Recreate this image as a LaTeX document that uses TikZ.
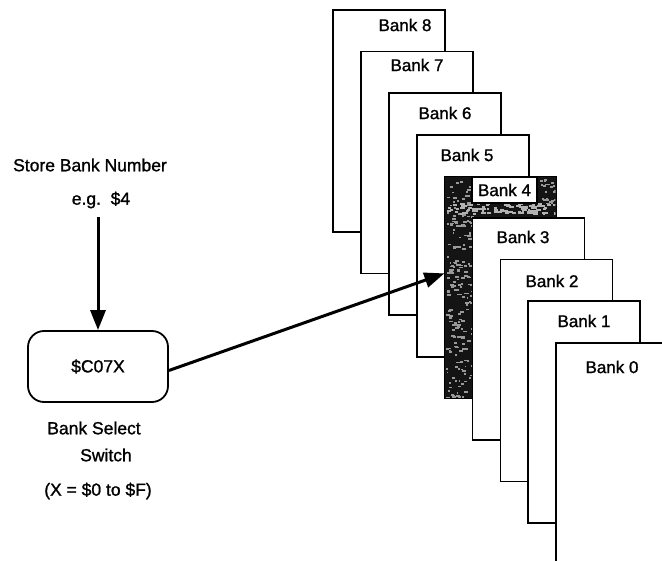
\documentclass[tikz,border=0pt]{standalone}
\usepackage{fontspec}
\setmainfont{Liberation Sans}
\newfontfamily\genevafont[FakeBold=1.2]{Liberation Sans}
\usetikzlibrary{arrows.meta,calc}
\begin{document}
\begin{tikzpicture}[x=1pt,y=-1pt,
  bank/.style={draw=black, line width=1.7pt, fill=white, minimum width=112pt,
    minimum height=222pt, anchor=north west, inner sep=0pt, outer sep=0pt},
  lbl/.style={font=\genevafont\fontsize{17}{20}\selectfont, inner sep=1pt},
  txt/.style={font=\genevafont\fontsize{17.5}{21}\selectfont, inner sep=1pt},
  swbox/.style={draw=black, line width=1.8pt, rounded corners=16pt,
    minimum width=140pt, minimum height=71pt, inner sep=0pt},
  arr/.style={line width=3pt, -{Triangle[length=20pt,width=15pt]}},
  speck/.style={fill=black!40}]
\useasboundingbox (0,0) rectangle (662,561);
\clip (0,0) rectangle (662,561);
\fill[white] (0,0) rectangle (662,561);

% back banks 8..5
\foreach \i/\lx/\ly in {8/405/25, 7/417/65, 6/445/113, 5/467/155}{
  \pgfmathsetmacro\L{333+27.9*(8-\i)}
  \pgfmathsetmacro\T{10+41.6*(8-\i)}
  \node[bank] (b\i) at (\L,\T) {};
  \node[lbl] (l\i) at (\lx,\ly) {Bank \i};
}

% bank 4 (selected, dark)
\node[bank, fill=black!92] (b4) at (444.4,176.4) {};
\begin{scope}
  \clip ([xshift=1pt,yshift=-1pt]b4.north west) rectangle ([xshift=-1pt,yshift=1pt]b4.south east);
  \pgfmathsetseed{5}
  \foreach \k in {1,...,200}{
    \pgfmathsetmacro\rx{446+rnd*26}
    \pgfmathsetmacro\ry{178+rnd*220}
    \pgfmathsetmacro\rw{1.5+rnd*3}
    \fill[speck] (\rx,\ry) rectangle ++(\rw,1.8);
  }
  \foreach \k in {1,...,90}{
    \pgfmathsetmacro\rx{446+rnd*110}
    \pgfmathsetmacro\ry{203+rnd*10}
    \pgfmathsetmacro\rw{2+rnd*4}
    \fill[black!30] (\rx,\ry) rectangle ++(\rw,2);
  }
  \foreach \k in {1,...,30}{
    \pgfmathsetmacro\rx{540+rnd*16}
    \pgfmathsetmacro\ry{178+rnd*26}
    \fill[speck] (\rx,\ry) rectangle ++(2.5,1.8);
  }
\end{scope}
\node[lbl, draw=black, line width=1.4pt, fill=white, minimum width=65pt,
  minimum height=26pt] (l4) at (504.5,190) {Bank 4};

% front banks 3..0
\foreach \i/\lx/\ly in {3/523/237, 2/552/281, 1/584/321, 0/612/367}{
  \pgfmathsetmacro\L{333+27.9*(8-\i)}
  \pgfmathsetmacro\T{10+41.6*(8-\i)}
  \node[bank] (b\i) at (\L,\T) {};
  \node[lbl] (l\i) at (\lx,\ly) {Bank \i};
}

% left side
\node[txt] (sbn) at (90,165) {Store Bank Number};
\node[txt] (eg) at (101,200) {e.g.\ \ \$4};
\node[txt, swbox] (sw) at (98,366.5) {\$C07X};
\node[txt] (bs1) at (94,428) {Bank Select};
\node[txt] (bs2) at (106,455) {Switch};
\node[txt] (rng) at (98,491) {(X = \$0 to \$F)};

\coordinate (tip) at ([yshift=-97pt]b4.north west);
\draw[arr] (sw.north |- eg.south) ++(0,8) -- (sw.north);
\draw[arr] ([yshift=-4pt]sw.east) -- (tip);
\end{tikzpicture}
\end{document}
